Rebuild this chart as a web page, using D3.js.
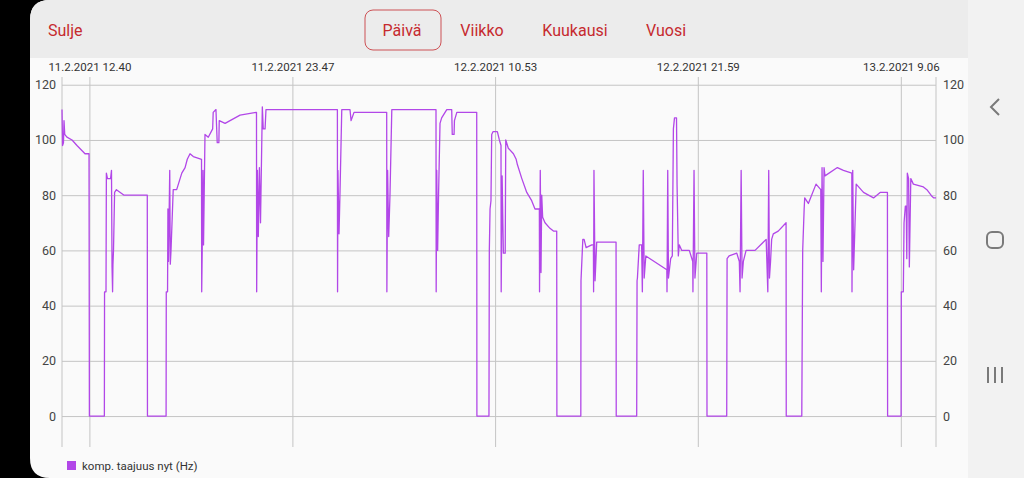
<!DOCTYPE html>
<html>
<head>
<meta charset="utf-8">
<script src="https://cdn.jsdelivr.net/npm/d3@7"></script>
<style>
  html, body { margin: 0; padding: 0; background: #000; }
  svg { display: block; font-family: Roboto, "Noto Sans", sans-serif; }
</style>
</head>
<body>
<svg id="chart" width="1024" height="478"></svg>
<script>
// top menu
const tabs = ['Päivä', 'Viikko', 'Kuukausi', 'Vuosi'];
const tabX = [402, 482, 575, 666];

// y ticks
const yTicks = [0, 20, 40, 60, 80, 100, 120];

// x ticks (labels above the plot)
const xTicks = [
    new Date(2021, 1, 11, 12, 40),
    new Date(2021, 1, 11, 23, 47),
    new Date(2021, 1, 12, 10, 53),
    new Date(2021, 1, 12, 21, 59),
    new Date(2021, 1, 13, 9, 6)
];

const t0 = new Date(2021, 1, 11, 11, 10);
const spanHours = 47.86;

const seriesName = 'komp. taajuus nyt (Hz)';

// [hours since t0, Hz]
const freq = [
    [0.00, 111], [0.03, 98], [0.08, 99], [0.11, 107], [0.15, 102], [0.27, 101], [0.55, 100], [0.82, 98],
    [1.26, 95], [1.48, 95], [1.50, 0], [2.32, 0], [2.33, 45], [2.41, 45], [2.43, 88], [2.49, 86],
    [2.66, 86], [2.71, 89], [2.74, 54], [2.77, 45], [2.79, 55], [2.82, 60], [2.88, 81], [2.98, 82],
    [3.40, 80], [4.67, 80], [4.68, 0],
    [5.70, 0], [5.71, 45], [5.78, 45], [5.80, 75], [5.83, 56], [5.90, 89], [5.93, 55], [5.97, 60],
    [6.09, 82], [6.28, 82], [6.56, 88], [6.74, 90], [6.86, 93], [7.01, 95], [7.19, 94], [7.64, 93],
    [7.65, 45], [7.68, 61], [7.72, 89], [7.75, 62], [7.83, 102], [8.01, 101], [8.25, 104], [8.28, 110],
    [8.43, 111], [8.50, 99], [8.59, 99], [8.61, 107], [8.93, 106], [9.75, 109], [10.65, 110],
    [10.66, 45], [10.70, 89], [10.75, 65], [10.81, 90], [10.87, 70], [10.97, 112], [11.02, 104],
    [11.12, 104], [11.17, 111], [15.08, 111],
    [15.09, 45], [15.11, 89], [15.17, 66], [15.22, 80], [15.32, 111], [15.77, 111], [15.83, 107],
    [15.99, 110], [17.78, 110],
    [17.79, 45], [17.83, 89], [17.89, 65], [17.96, 80], [18.06, 111], [20.48, 111],
    [20.49, 45], [20.52, 89], [20.57, 60], [20.62, 80], [20.70, 106], [20.79, 108], [21.07, 111],
    [21.34, 111], [21.37, 102], [21.47, 102], [21.49, 107], [21.62, 110], [22.71, 110], [22.72, 0],
    [23.38, 0], [23.40, 60], [23.44, 75], [23.49, 78], [23.53, 102], [23.60, 103], [23.84, 103],
    [23.95, 100], [24.04, 98], [24.05, 45], [24.10, 87], [24.17, 59], [24.27, 59], [24.30, 100],
    [24.44, 97], [24.72, 95], [24.87, 93], [24.94, 91], [25.18, 86], [25.45, 81], [25.72, 78],
    [25.90, 75], [26.14, 75], [26.15, 45], [26.19, 89], [26.23, 52], [26.27, 80], [26.32, 72],
    [26.45, 70], [26.72, 68], [26.91, 67], [27.09, 67], [27.10, 0],
    [28.41, 0], [28.42, 49], [28.52, 64], [28.59, 64], [28.70, 61], [29.01, 62], [29.10, 62],
    [29.11, 45], [29.13, 89], [29.19, 49], [29.28, 63], [30.34, 63], [30.35, 0],
    [31.47, 0], [31.49, 49], [31.51, 50], [31.61, 62], [31.74, 62], [31.78, 45], [31.83, 89],
    [31.88, 50], [31.97, 58], [33.12, 53], [33.13, 45], [33.17, 89], [33.21, 50], [33.33, 57],
    [33.42, 58], [33.48, 104], [33.54, 108], [33.65, 108], [33.68, 84], [33.75, 58], [33.80, 62],
    [33.94, 60], [34.35, 60], [34.54, 56], [34.55, 45], [34.61, 89], [34.66, 50], [34.76, 59],
    [35.31, 59], [35.32, 0],
    [36.40, 0], [36.42, 57], [36.53, 58], [36.95, 59], [37.09, 56], [37.13, 45], [37.19, 89],
    [37.24, 50], [37.31, 56], [37.46, 60], [37.95, 60], [38.56, 64], [38.65, 45], [38.70, 89],
    [38.74, 50], [38.80, 56], [38.86, 64], [38.95, 66], [39.22, 67], [39.65, 70], [39.66, 0],
    [40.51, 0], [40.56, 60], [40.64, 75], [40.67, 79], [40.87, 77], [41.29, 84], [41.55, 82],
    [41.58, 45], [41.62, 90], [41.67, 56], [41.73, 90], [41.78, 87], [42.46, 90], [42.79, 89],
    [43.25, 88], [43.26, 45], [43.30, 89], [43.35, 53], [43.49, 84], [43.89, 81], [44.44, 79],
    [44.80, 81], [45.20, 81], [45.21, 0],
    [45.95, 0], [45.96, 45], [46.07, 45], [46.11, 70], [46.18, 76], [46.23, 76], [46.26, 57],
    [46.29, 88], [46.36, 86], [46.40, 54], [46.48, 86], [46.62, 84], [47.17, 83], [47.36, 82],
    [47.65, 79.5], [47.74, 79], [47.86, 79]
];

const red = '#c62a2f';
const purple = '#b247e8';
const gridColor = '#c4c4c4';

const svg = d3.select('#chart');

// phone frame: black strip, panel, nav bar
svg.append('rect').attr('width', 1024).attr('height', 478).attr('fill', '#000');
svg.append('rect').attr('x', 968).attr('width', 56).attr('height', 478).attr('fill', '#f2f2f2');
svg.append('path')
    .attr('d', 'M30,20 Q30,0 50,0 H968 V478 H50 Q30,478 30,458 Z')
    .attr('fill', '#fafafa');
svg.append('path')
    .attr('d', 'M30,20 Q30,0 50,0 H968 V58 H30 Z')
    .attr('fill', '#ececec');

// nav icons
const nav = svg.append('g').attr('fill', 'none').attr('stroke', '#7a7a7a').attr('stroke-width', 2);
nav.append('path').attr('d', 'M999,99 L991,107 L999,115');
nav.append('rect').attr('x', 987).attr('y', 232).attr('width', 16).attr('height', 16).attr('rx', 5);
nav.append('path').attr('d', 'M988,367 V383 M995,367 V383 M1002,367 V383');

// top menu
svg.append('text')
    .attr('x', 48).attr('y', 36)
    .attr('font-size', 16).attr('fill', red)
    .text('Sulje');
svg.append('rect')
    .attr('x', 365).attr('y', 10).attr('width', 76).attr('height', 40).attr('rx', 8)
    .attr('fill', 'none').attr('stroke', red).attr('stroke-width', 1).attr('opacity', 0.8);
svg.selectAll('.tab')
    .data(tabs)
    .enter()
    .append('text')
    .attr('class', 'tab')
    .attr('x', (d, i) => tabX[i]).attr('y', 36)
    .attr('text-anchor', 'middle')
    .attr('font-size', 16).attr('fill', red)
    .text(d => d);

// scales
const plotLeft = 62, plotRight = 936, plotTop = 77, plotBottom = 447;
const x = d3.scaleTime()
    .domain([t0, new Date(+t0 + spanHours * 3600e3)])
    .range([plotLeft, plotRight]);
const y = d3.scaleLinear().domain([-11.2, 122.8]).range([plotBottom, plotTop]);
const toDate = h => new Date(+t0 + h * 3600e3);

// grid
svg.append('g')
    .attr('transform', `translate(${plotLeft},0)`)
    .call(d3.axisLeft(y).tickValues(yTicks).tickSize(-(plotRight - plotLeft)).tickFormat(''))
    .call(g => g.select('.domain').remove())
    .call(g => g.selectAll('line').attr('stroke', gridColor));

svg.append('g')
    .attr('transform', `translate(0,${plotBottom})`)
    .call(d3.axisBottom(x).tickValues(xTicks).tickSize(-(plotBottom - plotTop)).tickFormat(''))
    .call(g => g.select('.domain').remove())
    .call(g => g.selectAll('line').attr('stroke', gridColor));

// axis lines
[plotLeft, plotRight].forEach(px => {
    svg.append('line')
        .attr('x1', px).attr('x2', px).attr('y1', plotTop).attr('y2', plotBottom)
        .attr('stroke', gridColor);
});

// y labels both sides
svg.append('g')
    .attr('transform', `translate(${plotLeft},0)`)
    .call(d3.axisLeft(y).tickValues(yTicks).tickSize(0).tickPadding(6))
    .call(g => g.select('.domain').remove())
    .call(g => g.selectAll('text').attr('font-size', 12.5).attr('fill', '#444').attr('font-family', 'Roboto'));

svg.append('g')
    .attr('transform', `translate(${plotRight},0)`)
    .call(d3.axisRight(y).tickValues(yTicks).tickSize(0).tickPadding(7))
    .call(g => g.select('.domain').remove())
    .call(g => g.selectAll('text').attr('font-size', 12.5).attr('fill', '#444').attr('font-family', 'Roboto'));

// time labels above
const fmt = d3.timeFormat('%-d.%-m.%Y %-H.%M');
svg.append('g')
    .attr('transform', 'translate(0,71)')
    .call(d3.axisTop(x).tickValues(xTicks).tickSize(0).tickPadding(0).tickFormat(fmt))
    .call(g => g.select('.domain').remove())
    .call(g => g.selectAll('text').attr('font-size', 11.5).attr('fill', '#333').attr('font-family', 'Roboto'));

// the series
const line = d3.line()
    .x(d => x(toDate(d[0])))
    .y(d => y(d[1]));

svg.append('path')
    .datum(freq)
    .attr('d', line)
    .attr('fill', 'none')
    .attr('stroke', purple)
    .attr('stroke-width', 1.3)
    .attr('stroke-linejoin', 'round');

// legend
svg.append('rect')
    .attr('x', 67).attr('y', 461).attr('width', 9).attr('height', 9)
    .attr('fill', purple);
svg.append('text')
    .attr('x', 82).attr('y', 470)
    .attr('font-size', 11.5).attr('fill', '#333')
    .text(seriesName);
</script>
</body>
</html>
